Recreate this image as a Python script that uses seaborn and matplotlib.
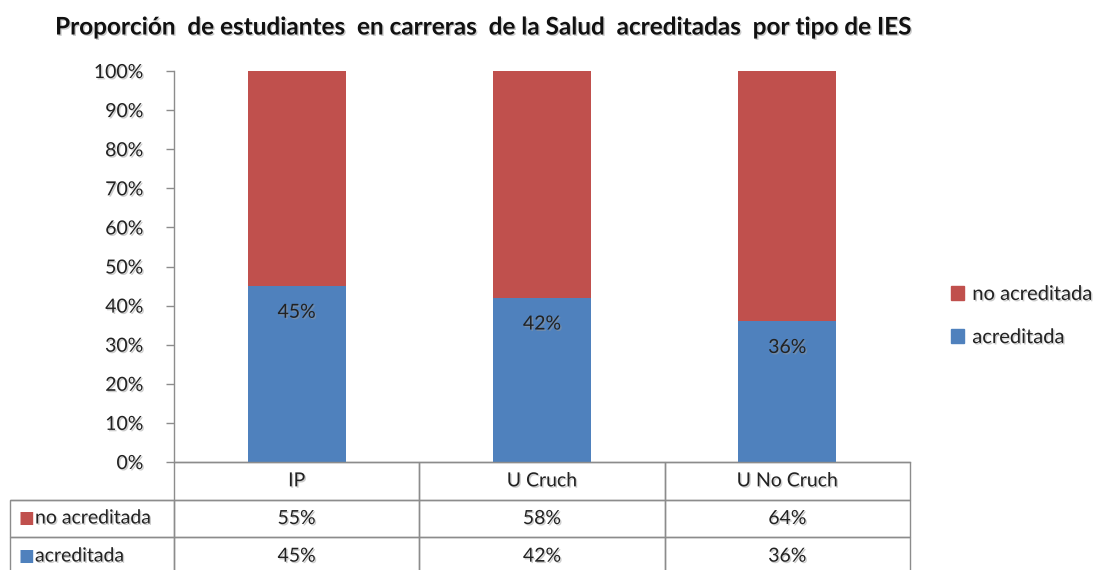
import matplotlib
matplotlib.use("Agg")
import matplotlib.pyplot as plt
import matplotlib.patheffects as pe
from matplotlib.patches import Patch
import pandas as pd
import seaborn as sns

categories = ["IP", "U Cruch", "U No Cruch"]
acreditada = [45, 42, 36]
no_acreditada = [55, 58, 64]
series = ["no acreditada", "acreditada"]
title = "Proporción  de estudiantes  en carreras  de la Salud  acreditadas  por tipo de IES"

blue = "#4F81BD"
red = "#C0504D"
grid_col = "#8C8C8C"
fs = 14

sns.set_theme(style="white")
plt.rcParams["font.family"] = ["Lato", "DejaVu Sans"]
shadow = [pe.withSimplePatchShadow(offset=(1, -1), shadow_rgbFace="#999999", alpha=0.5)]

df = pd.DataFrame({"tipo": categories,
                   "acreditada": acreditada,
                   "no acreditada": no_acreditada})
df["total"] = df["acreditada"] + df["no acreditada"]

fig = plt.figure(figsize=(10.93, 5.70), dpi=100)
W, H = 1093, 570
ax_l, ax_r, ax_t, ax_b = 174, 910, 71, 462
ax = fig.add_axes([ax_l / W, 1 - ax_b / H, (ax_r - ax_l) / W, (ax_b - ax_t) / H])

# stacked: red full bar underneath, blue on top of it
sns.barplot(data=df, x="tipo", y="total", color=red, saturation=1, width=0.4,
            linewidth=0, ax=ax)
sns.barplot(data=df, x="tipo", y="acreditada", color=blue, saturation=1, width=0.4,
            linewidth=0, ax=ax)

ax.bar_label(ax.containers[1], labels=[f"{v}%" for v in acreditada],
             padding=-25, fontsize=fs, color="#222222", path_effects=shadow)

ax.set_ylim(0, 100)
ax.set_xlim(-0.5, 2.5)
ax.set_yticks(range(0, 101, 10))
ax.set_yticklabels([f"{t}%" for t in range(0, 101, 10)], fontsize=fs, color="#222222")
for lab in ax.get_yticklabels():
    lab.set_path_effects(shadow)
ax.set_xticks([])
ax.set_xlabel("")
ax.set_ylabel("")
ax.tick_params(axis="y", left=True, length=6, width=1, color=grid_col, pad=16)
for s in ["top", "right"]:
    ax.spines[s].set_visible(False)
for s in ["left", "bottom"]:
    ax.spines[s].set_color(grid_col)
    ax.spines[s].set_linewidth(1)

# data table under the plot
ax_w = ax_r - ax_l
ax_h = ax_b - ax_t
tab_l = 10
row_px = [37, 38, 38]
tab_h = sum(row_px)
col_px = [ax_l - tab_l] + [ax_w / 3] * 3
cell_text = [[""] + categories,
             [""] + [f"{v}%" for v in no_acreditada],
             [""] + [f"{v}%" for v in acreditada]]
tbl = ax.table(cellText=cell_text, cellLoc="center",
               colWidths=[c / sum(col_px) for c in col_px],
               bbox=[(tab_l - ax_l) / ax_w, -tab_h / ax_h, (ax_r - tab_l) / ax_w, tab_h / ax_h])
tbl.auto_set_font_size(False)
for (r, c), cell in tbl.get_celld().items():
    cell.set_edgecolor(grid_col)
    cell.set_linewidth(1)
    cell.set_facecolor("none")
    cell.get_text().set_fontsize(fs)
    cell.get_text().set_color("#222222")
    cell.get_text().set_path_effects(shadow)
    if r == 0 and c == 0:
        cell.visible_edges = "B"
    cell.set_clip_on(False)

# row labels with colour keys
y0 = 0
for i, name in enumerate(series):
    y0 += row_px[i]
    yc = -(y0 + row_px[i + 1] / 2) / ax_h
    col = red if name == "no acreditada" else blue
    ax.text((18 - ax_l) / ax_w, yc, "■", color=col, fontsize=12,
            ha="left", va="center", transform=ax.transAxes, family="DejaVu Sans")
    ax.text((35 - ax_l) / ax_w, yc, name, color="#222222", fontsize=fs,
            ha="left", va="center", transform=ax.transAxes, path_effects=shadow)

handles = [Patch(color=red), Patch(color=blue)]
fig.legend(handles, series, loc="center left", bbox_to_anchor=(933 / W, 1 - 316 / H),
           frameon=False, fontsize=fs + 0.5, handlelength=0.65, handleheight=0.65,
           handletextpad=0.4, labelspacing=1.3)
for t in fig.legends[0].get_texts():
    t.set_color("#222222")
    t.set_path_effects(shadow)

fig.text(483 / W, 1 - 27 / H, title, ha="center", va="center",
         fontsize=17.5, fontweight="bold", color="#111111", path_effects=shadow)

fig.savefig("out.png", dpi=100)
